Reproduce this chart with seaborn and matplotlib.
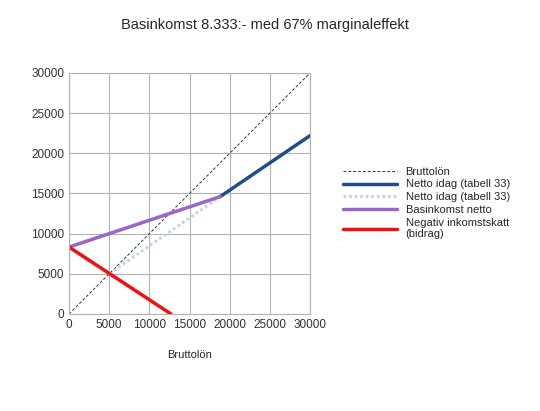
import matplotlib
matplotlib.use("Agg")
import matplotlib.pyplot as plt
import seaborn as sns

sns.set_style("white")
plt.rcParams['font.family'] = ['Liberation Sans', 'DejaVu Sans']

brutto_x = [0, 30000]; brutto_y = [0, 30000]
netto_x = [18800, 30000]; netto_y = [14600, 22200]
netto2_x = [5000, 18800]; netto2_y = [5000, 14600]
bas_x = [0, 18800]; bas_y = [8333, 14600]
neg_x = [0, 12700]; neg_y = [8333, 0]

fig = plt.figure(figsize=(5.4, 4.11), dpi=100)
ax = fig.add_axes([69/540, 1-314/411, 241/540, 241/411])
sns.lineplot(x=brutto_x, y=brutto_y, ax=ax, color='#333333', lw=0.7, linestyle=(0, (3, 2)), label='Bruttolön')
sns.lineplot(x=netto_x, y=netto_y, ax=ax, color='#1f4e8c', lw=2.5, label='Netto idag (tabell 33)')
sns.lineplot(x=netto2_x, y=netto2_y, ax=ax, color='#b8d4f0', lw=2, linestyle=(0, (1, 1)), label='Netto idag (tabell 33)')
sns.lineplot(x=bas_x, y=bas_y, ax=ax, color='#9966cc', lw=2.5, label='Basinkomst netto')
sns.lineplot(x=neg_x, y=neg_y, ax=ax, color='#ee1111', lw=2.5, label='Negativ inkomstskatt\n(bidrag)')
ax.set_xlim(0, 30000); ax.set_ylim(0, 30000)
ax.set_xticks(range(0, 30001, 5000)); ax.set_yticks(range(0, 30001, 5000))
ax.grid(True, color='#b3b3b3', lw=0.8)
for s in ax.spines.values():
    s.set_color('#b3b3b3')
ax.tick_params(labelsize=8.5, colors='#333333', length=0)
ax.set_xlabel('Bruttolön', fontsize=8, labelpad=14)
ax.set_ylabel('')
fig.suptitle('Basinkomst 8.333:- med 67% marginaleffekt', fontsize=10.5, y=0.955, x=0.49)
ax.legend(loc='upper left', bbox_to_anchor=(1.12, 0.63), frameon=False, fontsize=8,
          handlelength=4.8, labelspacing=0.25, borderaxespad=0)
fig.savefig('out.png', dpi=100)
